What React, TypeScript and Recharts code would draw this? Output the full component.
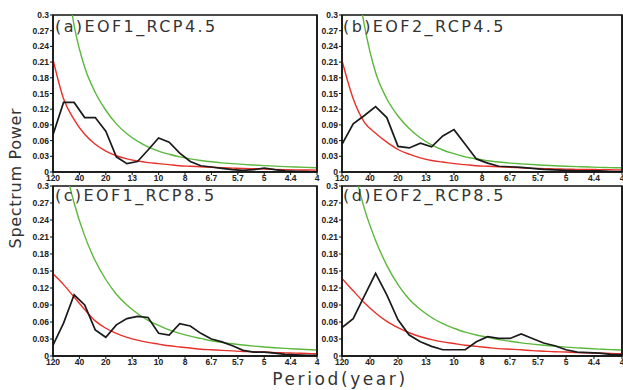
import React from "react";
import { LineChart, Line, XAxis, YAxis, ReferenceArea } from "recharts";

// frequency (cycles/year), one estimate every 0.01
const freq = [
  0, 0.01, 0.02, 0.03, 0.04, 0.05, 0.06, 0.07, 0.08, 0.09, 0.1, 0.11, 0.12,
  0.13, 0.14, 0.15, 0.16, 0.17, 0.18, 0.19, 0.2, 0.21, 0.22, 0.23, 0.24, 0.25,
];
const freqTicks = [0, 0.025, 0.05, 0.075, 0.1, 0.125, 0.15, 0.175, 0.2, 0.225, 0.25];
const periodLabels = ["120", "40", "20", "13", "10", "8", "6.7", "5.7", "5", "4.4", "4"];
const powerTicks = [0, 0.03, 0.06, 0.09, 0.12, 0.15, 0.18, 0.21, 0.24, 0.27, 0.3];

// (a) EOF1 RCP4.5
const specA = [
  0.071, 0.133, 0.133, 0.104, 0.104, 0.078, 0.029, 0.016, 0.02, 0.042, 0.065, 0.057, 0.036,
  0.02, 0.012, 0.0095, 0.007, 0.0045, 0.003, 0.0045, 0.0076, 0.0045, 0.002, 0.0013, 0.0006, 0,
];
const redA = [
  0.215, 0.14, 0.1, 0.072, 0.053, 0.04, 0.031, 0.025, 0.021, 0.018, 0.016, 0.014, 0.012,
  0.011, 0.01, 0.009, 0.0082, 0.0075, 0.0068, 0.0062, 0.0056, 0.005, 0.0045, 0.0041, 0.0038, 0.0035,
];
const greenA = [
  0.6, 0.42, 0.28, 0.2, 0.152, 0.118, 0.092, 0.073, 0.059, 0.048, 0.04, 0.034, 0.029,
  0.025, 0.022, 0.0195, 0.0175, 0.016, 0.0145, 0.0133, 0.0122, 0.0112, 0.0103, 0.0095, 0.0088, 0.0082,
];

// (b) EOF2 RCP4.5
const specB = [
  0.053, 0.092, 0.108, 0.125, 0.104, 0.049, 0.046, 0.055, 0.048, 0.069, 0.081, 0.053, 0.025,
  0.017, 0.011, 0.01, 0.009, 0.007, 0.005, 0.004, 0.003, 0.002, 0.002, 0.002, 0.001, 0.001,
];
const redB = [
  0.213, 0.14, 0.095, 0.074, 0.057, 0.043, 0.034, 0.027, 0.022, 0.019, 0.016, 0.014, 0.012,
  0.011, 0.01, 0.009, 0.008, 0.007, 0.0065, 0.006, 0.0055, 0.005, 0.0048, 0.0045, 0.0042, 0.004,
];
const greenB = [
  0.6, 0.42, 0.28, 0.19, 0.14, 0.107, 0.083, 0.065, 0.052, 0.042, 0.035, 0.029, 0.025,
  0.0215, 0.019, 0.017, 0.0155, 0.0142, 0.013, 0.012, 0.011, 0.0102, 0.0095, 0.0089, 0.0084, 0.008,
];

// (c) EOF1 RCP8.5
const specC = [
  0.019, 0.058, 0.108, 0.09, 0.046, 0.033, 0.055, 0.066, 0.07, 0.068, 0.04, 0.037, 0.057,
  0.053, 0.04, 0.03, 0.025, 0.018, 0.01, 0.007, 0.007, 0.005, 0.003, 0.002, 0.001, 0.001,
];
const redC = [
  0.145, 0.126, 0.104, 0.082, 0.062, 0.049, 0.04, 0.033, 0.028, 0.024, 0.021, 0.018, 0.016,
  0.014, 0.012, 0.011, 0.01, 0.009, 0.008, 0.0075, 0.007, 0.006, 0.0055, 0.005, 0.0045, 0.004,
];
const greenC = [
  0.48, 0.35, 0.27, 0.212, 0.168, 0.135, 0.109, 0.09, 0.075, 0.063, 0.054, 0.046, 0.04,
  0.035, 0.031, 0.027, 0.024, 0.0215, 0.0193, 0.0175, 0.016, 0.0146, 0.0134, 0.0123, 0.0114, 0.0106,
];

// (d) EOF2 RCP8.5
const specD = [
  0.05, 0.066, 0.106, 0.146, 0.108, 0.064, 0.037, 0.025, 0.017, 0.011, 0.011, 0.011, 0.025,
  0.034, 0.031, 0.031, 0.039, 0.031, 0.023, 0.018, 0.011, 0.007, 0.006, 0.005, 0.003, 0.002,
];
const redD = [
  0.137, 0.115, 0.094, 0.076, 0.061, 0.05, 0.041, 0.034, 0.029, 0.025, 0.022, 0.019, 0.017,
  0.015, 0.013, 0.012, 0.011, 0.0095, 0.0085, 0.0075, 0.007, 0.006, 0.0055, 0.005, 0.0045, 0.004,
];
const greenD = [
  0.46, 0.34, 0.26, 0.204, 0.16, 0.126, 0.1, 0.082, 0.068, 0.057, 0.049, 0.042, 0.037,
  0.033, 0.029, 0.026, 0.0232, 0.021, 0.019, 0.0172, 0.0157, 0.0144, 0.0132, 0.0122, 0.0113, 0.0105,
];

const toRows = (spec: number[], red: number[], green: number[]) =>
  freq.map((f, i) => ({ f, spec: spec[i], red: red[i], green: green[i] }));

const periodFmt = (v: number) => {
  const idx = freqTicks.findIndex((t) => Math.abs(t - v) < 1e-6);
  return idx >= 0 ? periodLabels[idx] : "";
};
const powerFmt = (v: number) => (v === 0 ? "0" : String(+v.toFixed(2)));

const tickFont = { fontFamily: "Liberation Sans, Arial, sans-serif", fontWeight: 700, fill: "#222" };
const frameLine = { stroke: "#111", strokeWidth: 1.5 };
const tickMark = { stroke: "#111", strokeWidth: 1 };

type PanelProps = {
  left: number;
  top: number;
  width: number;
  marginTop: number;
  xHeight: number;
  plotH: number;
  rightW: number;
  spec: number[];
  red: number[];
  green: number[];
};

function Panel({ left, top, width, marginTop, xHeight, plotH, rightW, spec, red, green }: PanelProps) {
  const data = toRows(spec, red, green);
  return (
    <div style={{ position: "absolute", left, top }}>
      <LineChart
        width={width}
        height={190}
        data={data}
        margin={{ top: marginTop, right: 0, bottom: 190 - marginTop - xHeight - plotH, left: 0 }}
      >
        <XAxis
          dataKey="f"
          type="number"
          domain={[0, 0.25]}
          ticks={freqTicks}
          interval={0}
          tickFormatter={periodFmt}
          height={xHeight}
          tickSize={3}
          tickMargin={0}
          axisLine={frameLine}
          tickLine={tickMark}
          tick={{ ...tickFont, fontSize: 8.5 }}
          allowDataOverflow
        />
        <YAxis
          type="number"
          domain={[0, 0.3]}
          ticks={powerTicks}
          interval={0}
          tickFormatter={powerFmt}
          width={53}
          tickSize={3}
          tickMargin={1}
          axisLine={frameLine}
          tickLine={tickMark}
          tick={{ ...tickFont, fontSize: 8.5 }}
          allowDataOverflow
        />
        <YAxis
          yAxisId="r"
          orientation="right"
          type="number"
          domain={[0, 0.3]}
          ticks={powerTicks}
          interval={0}
          tickFormatter={() => ""}
          width={rightW}
          tickSize={3}
          axisLine={frameLine}
          tickLine={tickMark}
        />
        <ReferenceArea
          x1={0}
          x2={0.25}
          y1={0}
          y2={0.3}
          fill="none"
          stroke="#111"
          strokeWidth={1.5}
          ifOverflow="visible"
        />
        <Line
          dataKey="green"
          type="monotone"
          stroke="#5cb83c"
          strokeWidth={1.4}
          dot={false}
          isAnimationActive={false}
        />
        <Line
          dataKey="red"
          type="monotone"
          stroke="#e8302a"
          strokeWidth={1.4}
          dot={false}
          isAnimationActive={false}
        />
        <Line
          dataKey="spec"
          type="linear"
          stroke="#1a1a1a"
          strokeWidth={1.7}
          dot={false}
          isAnimationActive={false}
        />
      </LineChart>
    </div>
  );
}

const titleStyle = {
  fontFamily: "DejaVu Sans, sans-serif",
  fontSize: 16,
  letterSpacing: 2.4,
  fill: "#333",
};

export default function App() {
  return (
    <div
      style={{
        position: "absolute",
        left: 0,
        top: 0,
        width: 623,
        height: 390,
        background: "#fff",
        overflow: "hidden",
      }}
    >
      <Panel left={0} top={0} width={320} marginTop={15} xHeight={16} plotH={157} rightW={3} spec={specA} red={redA} green={greenA} />
      <Panel left={289} top={0} width={334} marginTop={15} xHeight={16} plotH={157} rightW={1} spec={specB} red={redB} green={greenB} />
      <Panel left={0} top={180} width={320} marginTop={6} xHeight={14} plotH={170} rightW={3} spec={specC} red={redC} green={greenC} />
      <Panel left={289} top={180} width={334} marginTop={6} xHeight={14} plotH={170} rightW={1} spec={specD} red={redD} green={greenD} />
      <svg
        width={623}
        height={390}
        style={{ position: "absolute", left: 0, top: 0, pointerEvents: "none" }}
      >
        <text x={55} y={32} style={titleStyle}>(a)EOF1_RCP4.5</text>
        <text x={343} y={32} style={titleStyle}>(b)EOF2_RCP4.5</text>
        <text x={55} y={201} style={titleStyle}>(c)EOF1_RCP8.5</text>
        <text x={343} y={201} style={titleStyle}>(d)EOF2_RCP8.5</text>
        <text
          x={20.5}
          y={178}
          transform="rotate(-90 20.5 178)"
          textAnchor="middle"
          style={{ fontFamily: "DejaVu Sans, sans-serif", fontSize: 16, letterSpacing: 0.7, fill: "#333" }}
        >
          Spectrum Power
        </text>
        <text
          x={340}
          y={385}
          textAnchor="middle"
          style={{ fontFamily: "DejaVu Sans, sans-serif", fontSize: 17, letterSpacing: 2.6, fill: "#333" }}
        >
          Period(year)
        </text>
      </svg>
    </div>
  );
}
